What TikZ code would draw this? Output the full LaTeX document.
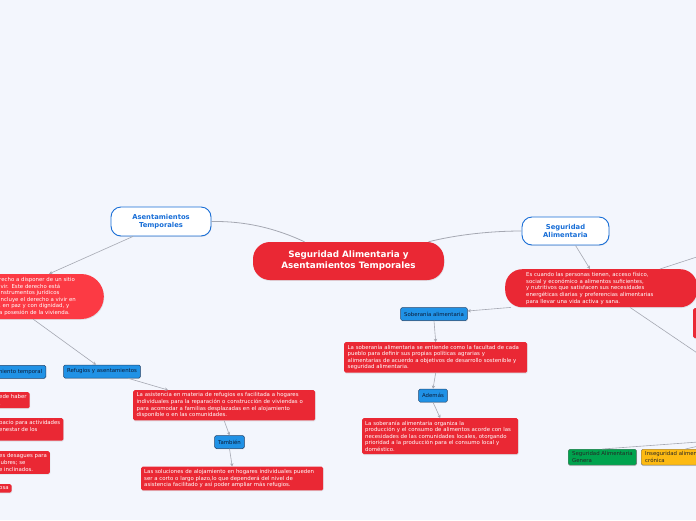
\documentclass[tikz,border=0pt]{standalone}
\usepackage{fontspec}
\setmainfont{DejaVu Sans}
\usetikzlibrary{shapes.misc,arrows.meta,shadows}

\definecolor{bgpaper}{RGB}{243,246,253}
\definecolor{mmred}{RGB}{234,40,52}
\definecolor{mmpink}{RGB}{252,58,68}
\definecolor{mmblue}{RGB}{24,110,215}
\definecolor{tagblue}{RGB}{32,146,230}
\definecolor{tagedge}{RGB}{35,70,110}
\definecolor{tagtext}{RGB}{12,28,55}
\definecolor{linkgray}{RGB}{165,168,178}
\definecolor{mmgreen}{RGB}{0,163,78}
\definecolor{mmyellow}{RGB}{253,186,18}

\newcommand\notefont{\fontsize{5.4}{6.6}\selectfont}

\tikzset{
  softshadow/.style={drop shadow={opacity=0.18, shadow xshift=0.5pt, shadow yshift=-0.9pt}},
  link/.style={draw=linkgray, line width=0.6pt, -{Stealth[length=3.2pt,width=3.4pt]}},
  branch/.style={draw=linkgray, line width=0.8pt},
  mainnode/.style={fill=mmred, rounded corners=17pt, softshadow, minimum width=191pt, minimum height=38pt,
    text=white, font=\fontsize{8.8}{11}\selectfont\bfseries, align=center},
  topic/.style={draw=mmblue, line width=0.9pt, fill=white, rounded corners=10pt, softshadow,
    text=mmblue, font=\fontsize{6.8}{8.6}\selectfont\bfseries, align=center},
  pill/.style={rounded rectangle, fill=mmred, softshadow, text=white, font=\notefont, align=left,
    inner xsep=2pt, inner ysep=2.5pt, minimum height=45pt},
  note/.style={fill=mmred, rounded corners=1.5pt, softshadow, text=white, font=\notefont, align=left,
    anchor=north west, inner xsep=4pt, inner ysep=2.6pt},
  tag/.style={fill=tagblue, draw=tagedge, line width=0.5pt, rounded corners=1.5pt, softshadow,
    text=tagtext, font=\fontsize{5.4}{6}\selectfont, inner xsep=3.5pt, inner ysep=0pt, minimum height=13pt},
}

\begin{document}
\begin{tikzpicture}[x=1pt, y=-1pt]
  \fill[bgpaper] (0,0) rectangle (696,520);
  \useasboundingbox (0,0) rectangle (696,520);
  \clip (0,0) rectangle (696,520);

  % central topic
  \node[mainnode] (main) at (348.5,261) {Seguridad Alimentaria y\\Asentamientos Temporales};

  % Asentamientos Temporales
  \node[topic, minimum width=100pt, minimum height=29pt] (asent) at (161,221.5) {Asentamientos\\Temporales};
  \draw[branch] ([xshift=-44pt]main.north) .. controls (275,228) and (245,221) .. (asent.east);

  \node[pill, rounded rectangle west arc=none, fill=mmpink, anchor=west, text width=92pt] (derecho) at (-3,296.5)
    {recho a disponer de un sitio\\ivir. Este derecho está\\instrumentos jurídicos\\incluye el derecho a vivir en\\, en paz y con dignidad, y\\a posesión de la vivienda.};
  \draw[link] ([xshift=-28pt]asent.south) -- ([xshift=4pt]derecho.north);

  \node[tag, anchor=north east] (temporal) at (46,365) {Asentamiento temporal};
  \node[note, anchor=north west, inner xsep=3pt] (sitio) at (-4,392) {ede haber\\.};
  \node[note, anchor=north west, inner xsep=3pt] (espacio) at (-4,418) {pacio para actividades\\enestar de los\\\mbox{}};
  \node[note, anchor=north west, inner xsep=3pt] (desague) at (-4,451) {es desagues para\\lubres; se\\e inclinados.};
  \node[note, anchor=north west, inner xsep=3pt] (otra) at (-4,484) {osa};

  \node[tag] (refugios) at (102,371.5) {Refugios y asentamientos};
  \draw[link] ([xshift=-12pt]derecho.south) -- ([xshift=-6pt]refugios.north);

  \node[note, text width=175pt, inner xsep=3.5pt] (asist) at (133,390)
    {La asistencia en materia de refugios es facilitada a hogares\\individuales para la reparación o construcción de viviendas o\\para acomodar a familias desplazadas en el alojamiento\\disponible o en las comunidades.};
  \draw[link] ([xshift=26pt]refugios.south) -- ([xshift=35pt]asist.north west);

  \node[tag] (tambien) at (229.5,442) {También};
  \draw[link] (asist.south) -- (tambien.north);

  \node[note, text width=176pt, inner xsep=3pt] (solu) at (141,466.5)
    {Las soluciones de alojamiento en hogares individuales pueden\\ser a corto o largo plazo,lo que dependerá del nivel de\\asistencia facilitado y así poder ampliar más refugios.};
  \draw[link] (tambien.south) -- (solu.north);

  % Seguridad Alimentaria
  \node[topic, minimum width=87pt, minimum height=28pt] (segal) at (565.5,231) {Seguridad\\Alimentaria};
  \draw[branch] ([xshift=80pt]main.north) .. controls (455,235) and (490,231) .. (segal.west);

  \node[note, rounded corners=17pt, text width=150pt, inner xsep=21pt, minimum height=38pt] (segdef) at (505,269)
    {Es cuando las personas tienen, acceso físico,\\social y económico a alimentos suficientes,\\y nutritivos que satisfacen sus necesidades\\energéticas diarias y preferencias alimentarias\\para llevar una vida activa y sana.};
  \draw[link] ([xshift=10pt]segal.south) -- ([xshift=85pt]segdef.north west);

  \node[note, minimum width=40pt, minimum height=30pt] (lado) at (693,308) {};
  \coordinate (offup) at (712,252);
  \coordinate (offdown) at (712,363);
  \draw[branch, line width=0.6pt] ([xshift=155pt]segdef.north west) -- (offup);
  \draw[branch, line width=0.6pt] ([xshift=125pt]segdef.south west) -- (offdown);

  \node[tag] (soberania) at (434,314) {Soberanía alimentaria};
  \draw[link] ([xshift=6pt]segdef.south west) -- ([yshift=3pt]soberania.east);

  \node[note, text width=176pt, inner xsep=3.5pt] (sob) at (344,342)
    {La soberanía alimentaria se entiende como la facultad de cada\\pueblo para definir sus propias políticas agrarias y\\alimentarias de acuerdo a objetivos de desarrollo sostenible y\\seguridad alimentaria.};
  \draw[link] (soberania.south) -- (sob.north);

  \node[tag] (ademas) at (433,395.5) {Además};
  \draw[link] (sob.south) -- (ademas.north);

  \node[note, text width=150pt, inner xsep=3pt] (organiza) at (362,418)
    {La soberanía alimentaria organiza la\\producción y el consumo de alimentos acorde con las\\necesidades de las comunidades locales, otorgando\\prioridad a la producción para el consumo local y\\doméstico.};
  \draw[link] (ademas.south) -- (organiza.north);

  % tipos
  \node[note, fill=mmgreen, draw=black!55, line width=0.4pt, text=black!85] (genera) at (568,449) {Seguridad Alimentaria\\Genera};
  \node[note, fill=mmyellow, draw=black!55, line width=0.4pt, text=black!85] (cronica) at (641,449) {Inseguridad alimentaria\\crónica};
  \coordinate (offgen) at (712,441);
  \coordinate (offcro) at (712,443);
  \draw[branch, line width=0.6pt] (offgen) -- (genera.north);
  \draw[branch, line width=0.6pt] (offcro) -- ([xshift=8pt]cronica.north);
\end{tikzpicture}
\end{document}
